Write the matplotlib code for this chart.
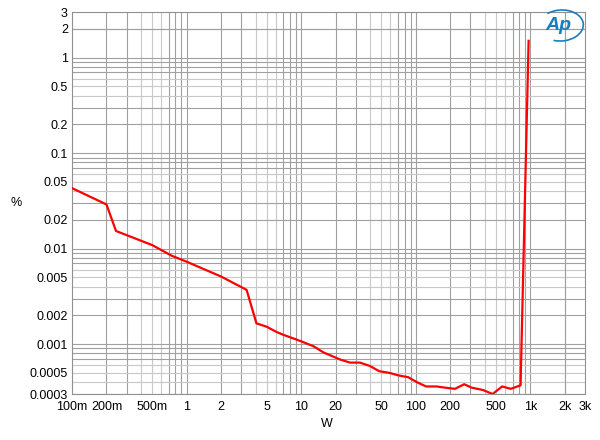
import numpy as np
import matplotlib
matplotlib.use("Agg")
import matplotlib.pyplot as plt
from matplotlib.patches import Arc

plt.rcParams['font.family'] = ['Liberation Sans', 'DejaVu Sans']

# THD+N (%) vs output power (W)
watts = [0.1, 0.2, 0.242, 0.5, 0.745, 1.0, 2.0, 3.34, 4.07, 5.0, 6.1, 7.0, 9.8,
         12.8, 15.6, 21.8, 26.7, 32.6, 39.8, 48, 58.8, 70.5, 86, 102, 123, 152,
         180, 220, 265, 307, 388, 468, 568, 676, 822, 966]
thd = [0.043, 0.029, 0.0153, 0.0109, 0.0084, 0.0073, 0.0051, 0.0037, 0.00165,
       0.00152, 0.00134, 0.00125, 0.00108, 0.00095, 0.00082, 0.00069, 0.00064,
       0.00064, 0.00059, 0.00052, 0.00050, 0.00047, 0.00045, 0.00040, 0.00036,
       0.00036, 0.00035, 0.00034, 0.00038, 0.00035, 0.00033, 0.00030, 0.00036,
       0.00034, 0.00037, 1.5]

xticks = [0.1, 0.2, 0.5, 1, 2, 5, 10, 20, 50, 100, 200, 500, 1000, 2000, 3000]
xlabels = ['100m', '200m', '500m', '1', '2', '5', '10', '20', '50', '100',
           '200', '500', '1k', '2k', '3k']
yticks = [0.0003, 0.0005, 0.001, 0.002, 0.005, 0.01, 0.02, 0.05, 0.1, 0.2,
          0.5, 1, 2, 3]
ylabels = ['0.0003', '0.0005', '0.001', '0.002', '0.005', '0.01', '0.02',
           '0.05', '0.1', '0.2', '0.5', '1', '2', '3']

fig = plt.figure(figsize=(6, 4.4), dpi=100)
ax = fig.add_axes([0.12, 0.1045, 0.855, 0.868])
ax.set_xscale('log')
ax.set_yscale('log')
ax.set_xlim(0.1, 3000)
ax.set_ylim(0.0003, 3)

# grid: every 1..9 multiple of each decade, darker on 1,2,3 and lighter otherwise
def grid_color(m):
    return '#a0a0a0' if m in (1, 2, 3, 7, 8, 9) else '#c8c8c8'

for d in range(-1, 4):
    for m in range(1, 10):
        v = m * 10.0 ** d
        if 0.1 < v < 3000:
            ax.axvline(v, color=grid_color(m), lw=0.8, zorder=1)
for d in range(-4, 1):
    for m in range(1, 10):
        v = m * 10.0 ** d
        if 0.0003 < v < 3:
            ax.axhline(v, color=grid_color(m), lw=0.8, zorder=1)
ax.axhline(2, color='#a0a0a0', lw=0.8, zorder=1)
ax.axvline(2000, color='#a0a0a0', lw=0.8, zorder=1)

ax.plot(watts, thd, color='#ff0000', lw=1.6, zorder=3)

ax.set_xticks(xticks)
ax.set_xticklabels(xlabels)
ax.set_yticks(yticks)
ax.set_yticklabels(ylabels)
ax.minorticks_off()
ax.tick_params(length=0, labelsize=9)
ax.tick_params(axis='x', pad=5)
ax.tick_params(axis='y', pad=3)
for s in ax.spines.values():
    s.set_color('#909090')
    s.set_linewidth(0.8)

fig.text(0.027, 0.538, '%', fontsize=9, ha='center', va='center')
fig.text(0.545, 0.036, 'W', fontsize=9, ha='center', va='center')

# Ap logo
fig.text(0.93, 0.942, 'Ap', fontsize=14, color='#1a7dc0', style='italic',
         fontweight='bold', ha='center', va='center')
fig.add_artist(Arc((0.935, 0.942), 0.075, 0.07, angle=20, theta1=-130, theta2=110,
                   transform=fig.transFigure, color='#1a7dc0', lw=1.2))

fig.savefig('out.png', dpi=100)
